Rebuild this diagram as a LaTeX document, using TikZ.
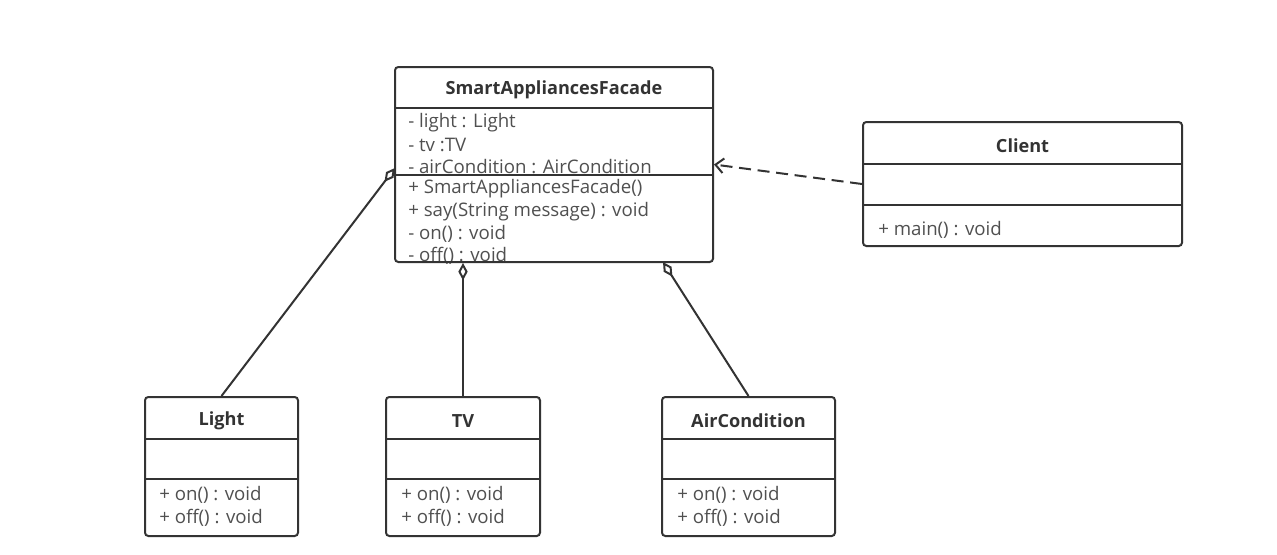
\documentclass[tikz,border=0pt]{standalone}
\usepackage{fontspec}
\setmainfont{Open Sans}
\usetikzlibrary{arrows.meta,fit}
\definecolor{umlline}{RGB}{51,51,51}
\definecolor{umltext}{RGB}{80,80,80}
\tikzset{
  uml box/.style={draw=umlline,line width=1.5pt,rounded corners=2.5pt,inner sep=0pt},
  uml rule/.style={draw=umlline,line width=1.5pt},
  uml title/.style={font=\fontsize{13.6}{15}\selectfont\bfseries,text=umlline,inner sep=0pt},
  uml member/.style={anchor=west,font=\fontsize{14}{16}\selectfont,text=umltext,inner sep=0pt},
  uml aggregation/.style={{Diamond[open,length=13pt,width=7pt]}-,line width=1.5pt,draw=umlline},
  uml dependency/.style={-{Straight Barb[length=6pt,width=11pt]},line width=1.5pt,draw=umlline,dash pattern=on 9pt off 5pt}
}

\begin{document}
\begin{tikzpicture}[x=0.75pt,y=-0.75pt]
    \useasboundingbox (0,0) rectangle (1277,554);
    \fill[white] (0,0) rectangle (1277,554);
    % facade class
    \node[uml member] (facadeA1) at (408,123) {- light : Light};
    \node[uml member] (facadeA2) at (408,145) {- tv :TV};
    \node[uml member] (facadeA3) at (408,167) {- airCondition : AirCondition};
    \node[uml member] (facadeM1) at (408,189) {+ SmartAppliancesFacade()};
    \node[uml member] (facadeM2) at (408,212) {+ say(String message) : void};
    \node[uml member] (facadeM3) at (408,234) {- on() : void};
    \node[uml member] (facadeM4) at (408,256) {- off() : void};
    \node[uml box,fit={(395,67) (713,262)}] (facade) {};
    \node[uml title] (facadeT) at (554,90) {SmartAppliancesFacade};
    \draw[uml rule] (395,108) -- (713,108);
    \draw[uml rule] (395,175) -- (713,175);
    % client class
    \node[uml box,fit={(863,122) (1182,246)}] (client) {};
    \node[uml title] (clientT) at (1022.5,146) {Client};
    \draw[uml rule] (863,164) -- (1182,164);
    \draw[uml rule] (863,205) -- (1182,205);
    \node[uml member] (clientM1) at (878,230) {+ main() : void};
    % light class
    \node[uml box,fit={(145,397) (298,536)}] (light) {};
    \node[uml title] (lightT) at (221.5,421) {Light};
    \draw[uml rule] (145,439) -- (298,439);
    \draw[uml rule] (145,479) -- (298,479);
    \node[uml member] (lightM1) at (159,495) {+ on() : void};
    \node[uml member] (lightM2) at (159,518) {+ off() : void};
    % tv class
    \node[uml box,fit={(386,397) (540,536)}] (tv) {};
    \node[uml title] (tvT) at (463,421) {TV};
    \draw[uml rule] (386,439) -- (540,439);
    \draw[uml rule] (386,479) -- (540,479);
    \node[uml member] (tvM1) at (401,495) {+ on() : void};
    \node[uml member] (tvM2) at (401,518) {+ off() : void};
    % air condition class
    \node[uml box,fit={(662,397) (835,536)}] (air) {};
    \node[uml title] (airT) at (748.5,421) {AirCondition};
    \draw[uml rule] (662,439) -- (835,439);
    \draw[uml rule] (662,479) -- (835,479);
    \node[uml member] (airM1) at (677,495) {+ on() : void};
    \node[uml member] (airM2) at (677,518) {+ off() : void};
    % relations
    \coordinate (facadeL) at (395,168);
    \coordinate (facadeR) at (663,262);
    \draw[uml aggregation] (facadeL) -- (light.north);
    \draw[uml aggregation] (tv.north |- facade.south) -- (tv.north);
    \draw[uml aggregation] (facadeR) -- (air.north);
    \draw[uml dependency] (client.west) -- (facade.east);
\end{tikzpicture}
\end{document}
